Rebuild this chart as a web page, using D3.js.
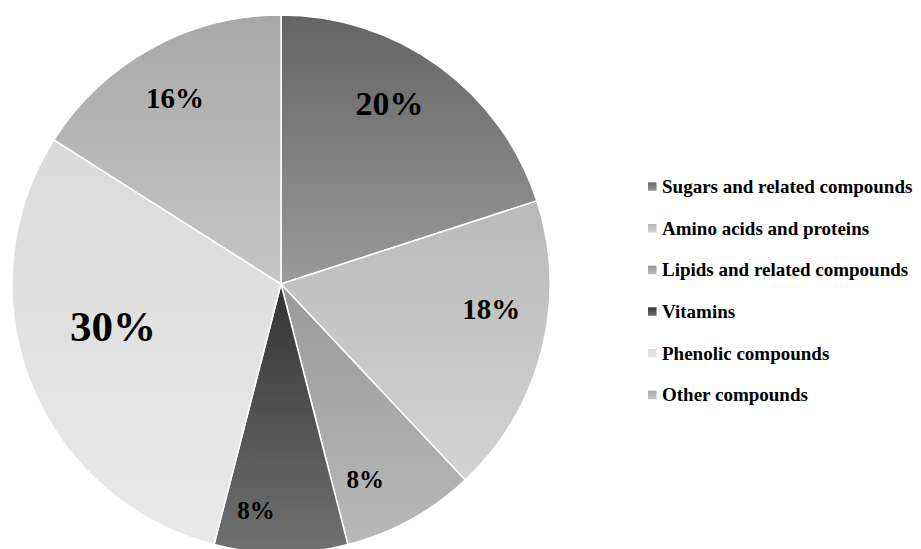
<!DOCTYPE html>
<html>
<head>
<meta charset="utf-8">
<script src="https://cdn.jsdelivr.net/npm/d3@7"></script>
<style>
  html, body { margin: 0; padding: 0; background: #fff; }
  svg { display: block; }
</style>
</head>
<body>
<svg id="chart" width="921" height="549"></svg>
<script>
// Composition of identified compounds (percent of total)
const categories = [
  "Sugars and related compounds",
  "Amino acids and proteins",
  "Lipids and related compounds",
  "Vitamins",
  "Phenolic compounds",
  "Other compounds"
];
const shares = [20, 18, 8, 8, 30, 16];

// Per-slice gradient stops (top, bottom)
const gradTop    = ["#646464", "#b9b9b9", "#999999", "#333333", "#dbdbdb", "#a8a8a8"];
const gradBottom = ["#9a9a9a", "#d3d3d3", "#b9b9b9", "#717171", "#e9e9e9", "#c6c6c6"];

// Label styling per slice
const labelSize  = [34, 29, 25, 25, 43, 29];
const labelNudge = [[-16, -9], [5, -27], [-18, 10], [-25, 15], [29, -35], [-4, 0]];

const svg = d3.select("#chart");
const cx = 281, cy = 284, radius = 269;

const defs = svg.append("defs");
categories.forEach((c, i) => {
  const g = defs.append("linearGradient")
    .attr("id", "grad" + i)
    .attr("x1", 0).attr("y1", 0).attr("x2", 0).attr("y2", 1);
  g.append("stop").attr("offset", "0%").attr("stop-color", gradTop[i]);
  g.append("stop").attr("offset", "100%").attr("stop-color", gradBottom[i]);
});

const data = categories.map((c, i) => ({ name: c, value: shares[i], i }));

const pie = d3.pie().value(d => d.value).sort(null);
const arc = d3.arc().innerRadius(0).outerRadius(radius);
const labelArc = d3.arc().innerRadius(212).outerRadius(212);

const g = svg.append("g").attr("transform", `translate(${cx},${cy})`);
const arcs = pie(data);

g.selectAll("path.slice")
  .data(arcs)
  .join("path")
  .attr("class", "slice")
  .attr("d", arc)
  .attr("fill", d => `url(#grad${d.data.i})`)
  .attr("stroke", "#ffffff")
  .attr("stroke-width", 1.5)
  .attr("stroke-linejoin", "round");

g.selectAll("text.pct")
  .data(arcs)
  .join("text")
  .attr("class", "pct")
  .attr("x", d => labelArc.centroid(d)[0] + labelNudge[d.data.i][0])
  .attr("y", d => labelArc.centroid(d)[1] + labelNudge[d.data.i][1])
  .attr("dy", "0.33em")
  .attr("text-anchor", "middle")
  .attr("font-family", "'Liberation Serif', 'Times New Roman', serif")
  .attr("font-weight", "bold")
  .attr("font-size", d => labelSize[d.data.i])
  .attr("fill", "#000")
  .text(d => d.data.value + "%");

// Legend
const legendY = d3.scaleBand()
  .domain(categories)
  .range([166, 416]);

const legend = svg.append("g");
const rows = legend.selectAll("g.row")
  .data(data)
  .join("g")
  .attr("class", "row")
  .attr("transform", d => `translate(648,${legendY(d.name) + legendY.bandwidth() / 2})`);

rows.append("rect")
  .attr("x", 0).attr("y", -4.5)
  .attr("width", 8.5).attr("height", 8.5)
  .attr("fill", d => `url(#grad${d.i})`);

rows.append("text")
  .attr("x", 14)
  .attr("y", 0)
  .attr("dy", "0.33em")
  .attr("font-family", "'Liberation Serif', 'Times New Roman', serif")
  .attr("font-weight", "bold")
  .attr("font-size", 19)
  .attr("fill", "#000")
  .text(d => d.name);
</script>
</body>
</html>
